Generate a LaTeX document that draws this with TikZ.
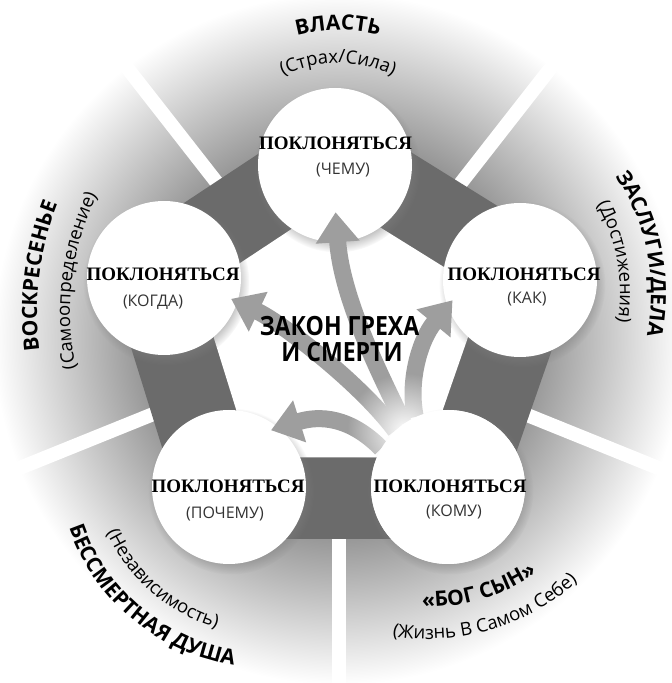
\documentclass[tikz,border=0pt]{standalone}
\usepackage{fontspec}
\setmainfont{Liberation Serif}
\newfontfamily\sansfont{Open Sans}
\usetikzlibrary{calc,arrows.meta,shadows,decorations.text,fadings}

\definecolor{bandgray}{gray}{0.42}
\definecolor{arrowgray}{gray}{0.62}
\pgfdeclareradialshading{ringshade}{\pgfpoint{0bp}{0bp}}{color(0bp)=(white); color(8bp)=(white); color(13.5bp)=(black!42); color(18bp)=(black!24); color(24bp)=(white); color(50bp)=(white)}
\tikzfading[name=glowfade, inner color=transparent!0, outer color=transparent!100]

\newcommand{\outerbold}{\sansfont\bfseries\fontsize{21}{21}\selectfont}
\newcommand{\outerlight}{\sansfont\fontsize{18.5}{18.5}\selectfont}

\tikzset{
  circ/.style={circle, fill=white, minimum size=154pt, inner sep=0pt,
    circular drop shadow={shadow xshift=2pt, shadow yshift=-4pt, opacity=0.5, shadow scale=1.08}},
  ttl/.style={anchor=base, inner sep=0pt, font=\fontsize{19}{19}\selectfont\bfseries},
  sub/.style={anchor=base, inner sep=0pt, text=black!80, font=\sansfont\fontsize{16}{16}\selectfont},
  law/.style={anchor=base, inner sep=0pt, font=\sansfont\bfseries\fontsize{26.5}{26.5}\selectfont},
  flow/.style={draw=arrowgray, line width=17pt, -{Triangle[width=42pt,length=30pt]}},
  curved/.style={decorate, decoration={text along path, text align=center, text={#1}}}
}

\begin{document}
\begin{tikzpicture}[x=1pt, y=1pt]
\useasboundingbox (0,0) rectangle (672,683);
\clip (0,0) rectangle (672,683);

% centres of the five circles
\coordinate (C) at (339,344);
\coordinate (pChemu) at (335,518);
\coordinate (pKak) at (520,403);
\coordinate (pKomu) at (448,196);
\coordinate (pPochemu) at (229,196);
\coordinate (pKogda) at (164,405);

% shaded ring and white rays
\shade[shading=ringshade] (C) circle (360);
\foreach \a in {52,128,202,270,338}
  \draw[white, line width=14pt] (C) -- ++(\a:520);

% pentagon band
\fill[bandgray] ($(C)!1.35!(pChemu)$) -- ($(C)!1.35!(pKak)$) -- ($(C)!1.35!(pKomu)$)
  -- ($(C)!1.35!(pPochemu)$) -- ($(C)!1.35!(pKogda)$) -- cycle;
\fill[white] ($(C)!0.8!(pChemu)$) -- ($(C)!0.8!(pKak)$) -- ($(C)!0.8!(pKomu)$)
  -- ($(C)!0.8!(pPochemu)$) -- ($(C)!0.8!(pKogda)$) -- cycle;

% circles
\node[circ] (chemu) at (pChemu) {};
\node[circ] (kak) at (pKak) {};
\node[circ] (kogda) at (pKogda) {};
\node[circ] (pochemu) at (pPochemu) {};
\node[circ] (komu) at (pKomu) {};

% arrows out of komu
\draw[flow, shorten >=-8pt] (komu.150) .. controls (350,266) and (320,268) .. (pochemu.50);
\draw[flow, shorten >=-7pt] (komu.133) .. controls (360,300) and (282,360) .. (kogda.-18);
\draw[flow, shorten >=-8pt] (komu.115) .. controls (408,300) and (419,342) .. (kak.200);
\draw[flow, shorten >=-30pt] (komu.125) .. controls (385,300) and (342,380) .. (chemu.-88);
\fill[white] (pKomu) circle (77);
\begin{scope}
  \clip ($(C)!0.8!(pChemu)$) -- ($(C)!0.8!(pKak)$) -- ($(C)!0.8!(pKomu)$)
    -- ($(C)!0.8!(pPochemu)$) -- ($(C)!0.8!(pKogda)$) -- cycle;
  \fill[white, path fading=glowfade] (405,252) circle (58);
\end{scope}

% texts in the circles
\node[ttl] (chemuT) at (335.5,533) {ПОКЛОНЯТЬСЯ};
\node[sub] (chemuS) at (343,508) {(ЧЕМУ)};
\node[ttl] (kogdaT) at (163,402) {ПОКЛОНЯТЬСЯ};
\node[sub] (kogdaS) at (153,376) {(КОГДА)};
\node[ttl] (kakT) at (524,402) {ПОКЛОНЯТЬСЯ};
\node[sub] (kakS) at (527,379) {(КАК)};
\node[ttl] (pochemuT) at (228,190) {ПОКЛОНЯТЬСЯ};
\node[sub] (pochemuS) at (225,164) {(ПОЧЕМУ)};
\node[ttl] (komuT) at (450,190) {ПОКЛОНЯТЬСЯ};
\node[sub] (komuS) at (454,166) {(КОМУ)};

\node[law] (law1) at (339.5,347) {\scalebox{0.87}[1]{ЗАКОН ГРЕХА}};
\node[law] (law2) at (342,321) {\scalebox{0.87}[1]{И СМЕРТИ}};

% curved outer labels
\path[curved={|\outerbold|ВЛАСТЬ}] ($(338,493)+(150:160)$) arc[start angle=150, end angle=30, radius=160];
\path[curved={|\outerlight|(Страх/Сила)}] ($(338,493)+(160:127)$) arc[start angle=160, end angle=20, radius=127];
\path[curved={|\outerbold|ЗАСЛУГИ/ДЕЛА}] ($(440,390)+(70:211)$) arc[start angle=70, end angle=-48, radius=211];
\path[curved={|\outerlight|(Достижения)}] ($(440,390)+(60:180)$) arc[start angle=60, end angle=-40, radius=180];
\path[curved={|\outerbold|ВОСКРЕСЕНЬЕ}] ($(333,371)+(206:296)$) arc[start angle=206, end angle=140, radius=296];
\path[curved={|\outerlight|(Самоопределение)}] ($(333,371)+(211:263)$) arc[start angle=211, end angle=135, radius=263];
\path[curved={|\outerbold|БЕССМЕРТНАЯ ДУША}] ($(266,223)+(165:208)$) arc[start angle=165, end angle=295, radius=208];
\path[curved={|\outerlight|(Независимость)}] ($(266,223)+(160:175)$) arc[start angle=160, end angle=298, radius=175];
\path[curved={|\outerbold|«БОГ СЫН»}] ($(428,267)+(236:191)$) arc[start angle=236, end angle=337, radius=191];
\path[curved={|\outerlight|(Жизнь В Самом Себе)}] ($(428,267)+(236:223)$) arc[start angle=236, end angle=337, radius=223];
\end{tikzpicture}
\end{document}
